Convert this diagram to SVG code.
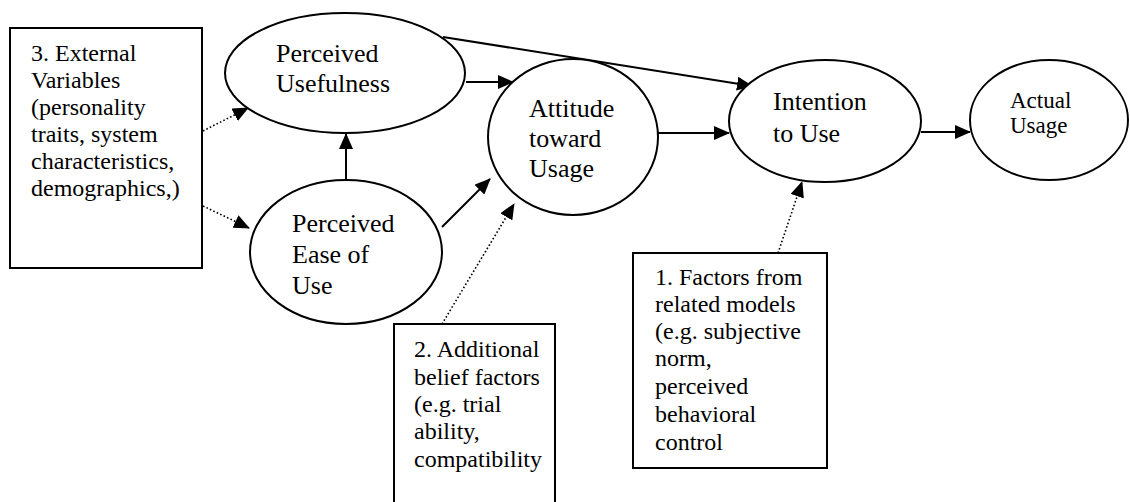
<svg xmlns="http://www.w3.org/2000/svg" width="1130" height="502" viewBox="0 0 1130 502">
<style>
.shape{fill:#fff;stroke:#000;stroke-width:2}
text{font-family:'Liberation Serif','Times New Roman',Times,'DejaVu Serif',serif;fill:#000}
.t{font-size:26px}
.b{font-size:24px}
.a{font-size:23px}
.line{fill:none;stroke:#000;stroke-width:2}
.dot{fill:none;stroke:#000;stroke-width:1.6;stroke-dasharray:1.6 2.2}
</style>
<defs>
<marker id="ah" markerUnits="userSpaceOnUse" markerWidth="16" markerHeight="14" refX="15" refY="7" orient="auto">
<path d="M0,0 L16,7 L0,14 Z" fill="#000"/>
</marker>
</defs>
<rect width="1130" height="502" fill="#fff"/>
<g id="connectors">
<line class="line" x1="346" y1="180" x2="346" y2="134" marker-end="url(#ah)"/>
<line class="line" x1="466" y1="82" x2="513" y2="82" marker-end="url(#ah)"/>
<line class="line" x1="443" y1="37" x2="752" y2="86" marker-end="url(#ah)"/>
<line class="line" x1="442" y1="227" x2="490" y2="179" marker-end="url(#ah)"/>
<line class="line" x1="658" y1="133" x2="729" y2="133" marker-end="url(#ah)"/>
<line class="line" x1="921" y1="132" x2="970" y2="132" marker-end="url(#ah)"/>
<line class="dot" x1="203" y1="131" x2="248" y2="108" marker-end="url(#ah)"/>
<line class="dot" x1="203" y1="206" x2="249" y2="228" marker-end="url(#ah)"/>
<line class="dot" x1="442" y1="324" x2="514" y2="204" marker-end="url(#ah)"/>
<line class="dot" x1="778" y1="253" x2="802" y2="182" marker-end="url(#ah)"/>
</g>
<g id="external-variables">
<rect class="shape" x="10" y="28" width="192" height="240"/>
<text class="b"><tspan x="31" y="61">3. External</tspan><tspan x="31" y="88">Variables</tspan><tspan x="31" y="115">(personality</tspan><tspan x="31" y="142">traits, system</tspan><tspan x="31" y="169">characteristics,</tspan><tspan x="31" y="196">demographics,)</tspan></text>
</g>
<g id="perceived-usefulness">
<ellipse class="shape" cx="345" cy="73" rx="120" ry="60"/>
<text class="t"><tspan x="276" y="62">Perceived</tspan><tspan x="276" y="92">Usefulness</tspan></text>
</g>
<g id="perceived-ease-of-use">
<ellipse class="shape" cx="346" cy="252" rx="96" ry="72"/>
<text class="t"><tspan x="292" y="232">Perceived</tspan><tspan x="292" y="263">Ease of</tspan><tspan x="292" y="294">Use</tspan></text>
</g>
<g id="attitude-toward-usage">
<ellipse class="shape" cx="573" cy="137" rx="85" ry="78"/>
<text class="t"><tspan x="529" y="117">Attitude</tspan><tspan x="529" y="147">toward</tspan><tspan x="529" y="177">Usage</tspan></text>
</g>
<g id="intention-to-use">
<ellipse class="shape" cx="825" cy="121" rx="96" ry="61"/>
<text class="t"><tspan x="773" y="110">Intention</tspan><tspan x="773" y="142">to Use</tspan></text>
</g>
<g id="actual-usage">
<ellipse class="shape" cx="1049" cy="120" rx="79" ry="60"/>
<text class="a"><tspan x="1010" y="108">Actual</tspan><tspan x="1010" y="133">Usage</tspan></text>
</g>
<g id="additional-belief-factors">
<rect class="shape" x="394" y="324" width="161" height="180"/>
<text class="b"><tspan x="414" y="357">2. Additional</tspan><tspan x="414" y="385">belief factors</tspan><tspan x="414" y="412">(e.g. trial</tspan><tspan x="414" y="439">ability,</tspan><tspan x="414" y="467">compatibility</tspan></text>
</g>
<g id="related-models-factors">
<rect class="shape" x="633" y="253" width="194" height="215"/>
<text class="b"><tspan x="655" y="285">1. Factors from</tspan><tspan x="655" y="312">related models</tspan><tspan x="655" y="339">(e.g. subjective</tspan><tspan x="655" y="366">norm,</tspan><tspan x="655" y="394">perceived</tspan><tspan x="655" y="422">behavioral</tspan><tspan x="655" y="450">control</tspan></text>
</g>
</svg>
